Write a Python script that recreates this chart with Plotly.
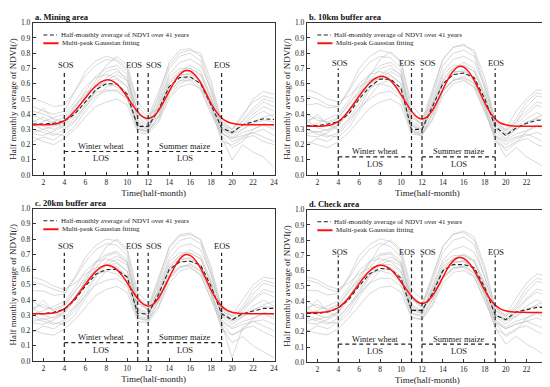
import plotly.graph_objects as go

W, H = 550, 387
x_int = list(range(1, 25))
x_half = [1 + 0.5 * i for i in range(47)]

panel_titles = ["a. Mining area", "b. 10km buffer area", "c. 20km buffer area", "d. Check area"]
x_ticks = [2, 4, 6, 8, 10, 12, 14, 16, 18, 20, 22, 24]
y_ticks = [0.0, 0.1, 0.2, 0.3, 0.4, 0.5, 0.6, 0.7, 0.8, 0.9, 1.0]
phase_x = [4, 11, 12, 19]
legend_labels = ["Half-monthly average of NDVI over 41 years", "Multi-peak Gaussian fitting"]
crop_labels = ["Winter wheat", "Summer maize"]

# half-monthly mean NDVI over 41 years (dashed)
mean_a = [0.335, 0.335, 0.34, 0.355, 0.40, 0.48, 0.56, 0.60, 0.60, 0.53, 0.32, 0.32, 0.43, 0.58, 0.64, 0.645, 0.60, 0.46, 0.31, 0.28, 0.33, 0.35, 0.37, 0.365]
mean_b = [0.325, 0.325, 0.335, 0.35, 0.40, 0.50, 0.58, 0.63, 0.63, 0.57, 0.30, 0.30, 0.45, 0.60, 0.66, 0.67, 0.64, 0.50, 0.32, 0.26, 0.31, 0.34, 0.36, 0.36]
mean_c = [0.31, 0.31, 0.32, 0.34, 0.40, 0.49, 0.57, 0.60, 0.60, 0.55, 0.31, 0.31, 0.44, 0.60, 0.65, 0.655, 0.63, 0.49, 0.31, 0.27, 0.31, 0.33, 0.345, 0.345]
mean_d = [0.32, 0.32, 0.33, 0.355, 0.41, 0.50, 0.58, 0.615, 0.61, 0.55, 0.34, 0.34, 0.45, 0.60, 0.64, 0.64, 0.62, 0.49, 0.31, 0.28, 0.33, 0.345, 0.36, 0.36]

# multi-peak Gaussian fit (red), read at half-month steps
fit_a = [0.330, 0.330, 0.330, 0.331, 0.334, 0.342, 0.358, 0.385, 0.420, 0.462, 0.505, 0.548, 0.585, 0.612, 0.625, 0.620, 0.598, 0.560, 0.512, 0.462, 0.415, 0.382, 0.372, 0.385, 0.425, 0.485, 0.550, 0.612, 0.660, 0.685, 0.683, 0.655, 0.605, 0.540, 0.470, 0.415, 0.375, 0.352, 0.340, 0.334, 0.331, 0.330, 0.330, 0.330, 0.330, 0.330, 0.330]
fit_b = [0.320, 0.320, 0.320, 0.321, 0.325, 0.334, 0.352, 0.382, 0.422, 0.468, 0.518, 0.565, 0.605, 0.634, 0.648, 0.643, 0.620, 0.580, 0.528, 0.472, 0.420, 0.382, 0.368, 0.382, 0.425, 0.490, 0.562, 0.630, 0.683, 0.712, 0.708, 0.676, 0.620, 0.550, 0.475, 0.412, 0.368, 0.342, 0.330, 0.324, 0.321, 0.320, 0.320, 0.320, 0.320, 0.320, 0.320]
fit_c = [0.310, 0.310, 0.310, 0.311, 0.315, 0.324, 0.342, 0.372, 0.410, 0.455, 0.502, 0.548, 0.588, 0.616, 0.628, 0.622, 0.600, 0.562, 0.513, 0.460, 0.410, 0.375, 0.360, 0.374, 0.415, 0.478, 0.548, 0.615, 0.668, 0.697, 0.693, 0.662, 0.608, 0.540, 0.466, 0.404, 0.360, 0.334, 0.320, 0.314, 0.311, 0.310, 0.310, 0.310, 0.310, 0.310, 0.310]
fit_d = [0.326, 0.325, 0.326, 0.328, 0.333, 0.342, 0.358, 0.386, 0.423, 0.467, 0.515, 0.560, 0.598, 0.624, 0.635, 0.630, 0.608, 0.572, 0.526, 0.478, 0.433, 0.400, 0.386, 0.398, 0.436, 0.493, 0.557, 0.620, 0.666, 0.686, 0.680, 0.650, 0.600, 0.538, 0.472, 0.415, 0.375, 0.350, 0.338, 0.332, 0.329, 0.328, 0.327, 0.327, 0.327, 0.327, 0.327]

# individual years (gray), read approximately
years_a = [
    [0.45, 0.42, 0.40, 0.42, 0.55, 0.68, 0.75, 0.78, 0.76, 0.70, 0.45, 0.38, 0.55, 0.72, 0.80, 0.82, 0.80, 0.62, 0.35, 0.30, 0.40, 0.48, 0.52, 0.50],
    [0.30, 0.28, 0.26, 0.30, 0.38, 0.45, 0.52, 0.55, 0.56, 0.50, 0.30, 0.28, 0.40, 0.55, 0.62, 0.64, 0.60, 0.45, 0.28, 0.22, 0.25, 0.28, 0.30, 0.26],
    [0.35, 0.38, 0.33, 0.36, 0.45, 0.55, 0.65, 0.70, 0.72, 0.66, 0.35, 0.30, 0.46, 0.64, 0.70, 0.70, 0.66, 0.50, 0.30, 0.27, 0.33, 0.40, 0.45, 0.42],
    [0.25, 0.22, 0.20, 0.24, 0.30, 0.38, 0.45, 0.48, 0.50, 0.46, 0.28, 0.27, 0.35, 0.50, 0.58, 0.60, 0.57, 0.42, 0.25, 0.10, 0.20, 0.15, 0.12, 0.05],
    [0.50, 0.48, 0.45, 0.46, 0.55, 0.65, 0.72, 0.76, 0.75, 0.68, 0.40, 0.35, 0.50, 0.70, 0.78, 0.80, 0.75, 0.55, 0.33, 0.30, 0.38, 0.50, 0.55, 0.53],
    [0.32, 0.35, 0.38, 0.40, 0.48, 0.58, 0.64, 0.66, 0.64, 0.58, 0.32, 0.30, 0.42, 0.60, 0.66, 0.66, 0.62, 0.48, 0.30, 0.25, 0.30, 0.35, 0.38, 0.40],
    [0.28, 0.30, 0.27, 0.26, 0.32, 0.42, 0.50, 0.58, 0.60, 0.54, 0.30, 0.29, 0.38, 0.58, 0.65, 0.67, 0.62, 0.45, 0.28, 0.24, 0.28, 0.30, 0.33, 0.30],
    [0.40, 0.36, 0.35, 0.38, 0.46, 0.52, 0.58, 0.62, 0.63, 0.58, 0.38, 0.33, 0.45, 0.62, 0.68, 0.72, 0.68, 0.52, 0.32, 0.28, 0.35, 0.42, 0.48, 0.45],
    [0.22, 0.25, 0.23, 0.28, 0.35, 0.44, 0.55, 0.62, 0.66, 0.62, 0.42, 0.35, 0.38, 0.52, 0.60, 0.63, 0.58, 0.44, 0.22, 0.20, 0.24, 0.26, 0.22, 0.20],
    [0.36, 0.32, 0.30, 0.33, 0.42, 0.50, 0.60, 0.68, 0.70, 0.62, 0.36, 0.32, 0.48, 0.66, 0.74, 0.76, 0.72, 0.56, 0.34, 0.28, 0.32, 0.38, 0.42, 0.38],
    [0.42, 0.40, 0.37, 0.35, 0.40, 0.48, 0.54, 0.56, 0.55, 0.50, 0.33, 0.31, 0.43, 0.60, 0.68, 0.70, 0.66, 0.50, 0.31, 0.27, 0.30, 0.34, 0.36, 0.35],
    [0.27, 0.26, 0.29, 0.32, 0.40, 0.52, 0.62, 0.72, 0.78, 0.72, 0.48, 0.40, 0.44, 0.58, 0.64, 0.65, 0.60, 0.46, 0.26, 0.18, 0.22, 0.30, 0.34, 0.32],
    [0.38, 0.44, 0.36, 0.30, 0.36, 0.46, 0.56, 0.64, 0.68, 0.64, 0.40, 0.36, 0.52, 0.74, 0.82, 0.83, 0.78, 0.58, 0.36, 0.30, 0.36, 0.44, 0.50, 0.48],
    [0.33, 0.30, 0.32, 0.34, 0.44, 0.54, 0.58, 0.60, 0.58, 0.52, 0.31, 0.29, 0.36, 0.54, 0.62, 0.62, 0.56, 0.40, 0.27, 0.24, 0.26, 0.28, 0.25, 0.22],
]
years_b = [
    [0.52, 0.50, 0.46, 0.45, 0.56, 0.70, 0.78, 0.82, 0.80, 0.74, 0.42, 0.36, 0.56, 0.76, 0.84, 0.85, 0.82, 0.64, 0.36, 0.30, 0.42, 0.50, 0.56, 0.55],
    [0.30, 0.27, 0.25, 0.28, 0.36, 0.44, 0.50, 0.54, 0.55, 0.50, 0.28, 0.26, 0.40, 0.56, 0.62, 0.64, 0.60, 0.44, 0.26, 0.20, 0.24, 0.26, 0.28, 0.25],
    [0.36, 0.38, 0.34, 0.37, 0.46, 0.56, 0.66, 0.72, 0.74, 0.68, 0.33, 0.29, 0.48, 0.66, 0.72, 0.72, 0.68, 0.52, 0.31, 0.26, 0.33, 0.40, 0.46, 0.43],
    [0.22, 0.20, 0.18, 0.22, 0.28, 0.36, 0.44, 0.48, 0.50, 0.46, 0.27, 0.26, 0.36, 0.52, 0.60, 0.62, 0.58, 0.42, 0.24, 0.12, 0.18, 0.12, 0.08, 0.04],
    [0.46, 0.47, 0.44, 0.45, 0.55, 0.66, 0.74, 0.78, 0.77, 0.70, 0.38, 0.33, 0.52, 0.72, 0.80, 0.82, 0.78, 0.57, 0.34, 0.29, 0.37, 0.48, 0.54, 0.52],
    [0.32, 0.34, 0.37, 0.40, 0.49, 0.60, 0.66, 0.68, 0.66, 0.60, 0.30, 0.28, 0.44, 0.62, 0.68, 0.68, 0.64, 0.50, 0.30, 0.24, 0.30, 0.34, 0.38, 0.40],
    [0.27, 0.29, 0.26, 0.25, 0.31, 0.42, 0.52, 0.60, 0.63, 0.57, 0.29, 0.27, 0.40, 0.60, 0.67, 0.69, 0.64, 0.46, 0.28, 0.23, 0.27, 0.29, 0.32, 0.29],
    [0.40, 0.36, 0.35, 0.38, 0.47, 0.54, 0.60, 0.64, 0.65, 0.60, 0.36, 0.31, 0.47, 0.64, 0.70, 0.74, 0.70, 0.54, 0.33, 0.27, 0.35, 0.42, 0.48, 0.46],
    [0.20, 0.24, 0.22, 0.27, 0.34, 0.44, 0.56, 0.64, 0.68, 0.64, 0.40, 0.33, 0.40, 0.55, 0.62, 0.65, 0.60, 0.45, 0.22, 0.18, 0.22, 0.24, 0.20, 0.18],
    [0.36, 0.31, 0.29, 0.33, 0.43, 0.52, 0.62, 0.70, 0.72, 0.65, 0.34, 0.30, 0.50, 0.68, 0.76, 0.78, 0.74, 0.58, 0.35, 0.27, 0.31, 0.37, 0.41, 0.37],
    [0.56, 0.54, 0.50, 0.48, 0.52, 0.58, 0.62, 0.64, 0.62, 0.56, 0.32, 0.30, 0.45, 0.62, 0.70, 0.72, 0.68, 0.52, 0.31, 0.26, 0.30, 0.35, 0.37, 0.36],
    [0.26, 0.25, 0.28, 0.32, 0.41, 0.54, 0.65, 0.76, 0.81, 0.75, 0.46, 0.38, 0.46, 0.60, 0.66, 0.67, 0.62, 0.47, 0.26, 0.16, 0.21, 0.29, 0.33, 0.31],
    [0.34, 0.40, 0.33, 0.30, 0.37, 0.47, 0.57, 0.66, 0.70, 0.66, 0.38, 0.34, 0.54, 0.76, 0.84, 0.86, 0.80, 0.60, 0.36, 0.29, 0.35, 0.45, 0.52, 0.50],
    [0.30, 0.28, 0.30, 0.33, 0.43, 0.53, 0.58, 0.60, 0.58, 0.52, 0.29, 0.27, 0.37, 0.55, 0.63, 0.63, 0.57, 0.41, 0.26, 0.22, 0.25, 0.27, 0.24, 0.20],
]
years_c = [
    [0.52, 0.50, 0.47, 0.45, 0.55, 0.68, 0.76, 0.80, 0.79, 0.72, 0.42, 0.36, 0.55, 0.74, 0.82, 0.83, 0.80, 0.62, 0.35, 0.30, 0.40, 0.50, 0.55, 0.54],
    [0.28, 0.26, 0.24, 0.27, 0.35, 0.43, 0.50, 0.53, 0.54, 0.49, 0.28, 0.26, 0.40, 0.56, 0.62, 0.63, 0.59, 0.44, 0.26, 0.21, 0.24, 0.26, 0.27, 0.24],
    [0.35, 0.37, 0.33, 0.36, 0.45, 0.55, 0.65, 0.70, 0.72, 0.66, 0.33, 0.29, 0.47, 0.65, 0.71, 0.71, 0.67, 0.51, 0.30, 0.26, 0.32, 0.40, 0.45, 0.42],
    [0.20, 0.18, 0.17, 0.21, 0.27, 0.35, 0.43, 0.47, 0.49, 0.45, 0.26, 0.25, 0.35, 0.51, 0.59, 0.61, 0.57, 0.41, 0.22, 0.12, 0.16, 0.10, 0.06, 0.02],
    [0.46, 0.46, 0.43, 0.44, 0.54, 0.65, 0.73, 0.77, 0.76, 0.69, 0.38, 0.33, 0.51, 0.71, 0.79, 0.81, 0.77, 0.56, 0.33, 0.29, 0.36, 0.47, 0.53, 0.51],
    [0.31, 0.33, 0.36, 0.39, 0.48, 0.59, 0.65, 0.67, 0.65, 0.59, 0.30, 0.28, 0.43, 0.61, 0.67, 0.67, 0.63, 0.49, 0.29, 0.24, 0.29, 0.33, 0.37, 0.39],
    [0.26, 0.28, 0.25, 0.24, 0.30, 0.41, 0.51, 0.59, 0.62, 0.56, 0.28, 0.27, 0.39, 0.59, 0.66, 0.68, 0.63, 0.45, 0.27, 0.22, 0.26, 0.28, 0.31, 0.28],
    [0.39, 0.35, 0.34, 0.37, 0.46, 0.53, 0.59, 0.63, 0.64, 0.59, 0.35, 0.31, 0.46, 0.63, 0.69, 0.73, 0.69, 0.53, 0.32, 0.27, 0.34, 0.41, 0.47, 0.45],
    [0.19, 0.23, 0.21, 0.26, 0.33, 0.43, 0.55, 0.63, 0.67, 0.63, 0.40, 0.33, 0.39, 0.54, 0.61, 0.64, 0.59, 0.44, 0.21, 0.17, 0.21, 0.23, 0.19, 0.16],
    [0.35, 0.30, 0.28, 0.32, 0.42, 0.51, 0.61, 0.69, 0.71, 0.64, 0.34, 0.30, 0.49, 0.67, 0.75, 0.77, 0.73, 0.57, 0.34, 0.27, 0.30, 0.36, 0.40, 0.36],
    [0.55, 0.53, 0.49, 0.47, 0.51, 0.57, 0.61, 0.63, 0.61, 0.55, 0.32, 0.30, 0.44, 0.61, 0.69, 0.71, 0.67, 0.51, 0.31, 0.26, 0.29, 0.34, 0.36, 0.35],
    [0.25, 0.24, 0.27, 0.31, 0.40, 0.53, 0.64, 0.75, 0.80, 0.74, 0.45, 0.38, 0.45, 0.59, 0.65, 0.66, 0.61, 0.46, 0.25, 0.17, 0.20, 0.28, 0.32, 0.30],
    [0.33, 0.40, 0.32, 0.29, 0.36, 0.46, 0.56, 0.65, 0.69, 0.65, 0.38, 0.34, 0.53, 0.75, 0.83, 0.84, 0.79, 0.59, 0.35, 0.29, 0.34, 0.44, 0.51, 0.49],
    [0.30, 0.27, 0.29, 0.32, 0.42, 0.52, 0.57, 0.59, 0.57, 0.51, 0.29, 0.27, 0.36, 0.54, 0.62, 0.62, 0.56, 0.40, 0.25, 0.02, 0.22, 0.26, 0.23, 0.20],
]
years_d = [
    [0.54, 0.52, 0.48, 0.46, 0.56, 0.70, 0.77, 0.81, 0.79, 0.72, 0.44, 0.38, 0.57, 0.76, 0.84, 0.86, 0.82, 0.63, 0.36, 0.31, 0.42, 0.52, 0.58, 0.56],
    [0.29, 0.27, 0.25, 0.29, 0.37, 0.45, 0.52, 0.55, 0.55, 0.50, 0.30, 0.28, 0.41, 0.56, 0.62, 0.63, 0.59, 0.44, 0.27, 0.22, 0.25, 0.27, 0.29, 0.26],
    [0.36, 0.38, 0.34, 0.37, 0.46, 0.56, 0.66, 0.71, 0.72, 0.66, 0.36, 0.32, 0.48, 0.65, 0.70, 0.70, 0.66, 0.50, 0.31, 0.27, 0.33, 0.41, 0.46, 0.43],
    [0.21, 0.19, 0.18, 0.22, 0.29, 0.37, 0.45, 0.49, 0.50, 0.46, 0.29, 0.28, 0.37, 0.52, 0.59, 0.60, 0.56, 0.41, 0.23, 0.12, 0.17, 0.12, 0.08, 0.03],
    [0.47, 0.47, 0.44, 0.45, 0.55, 0.66, 0.74, 0.78, 0.76, 0.69, 0.41, 0.36, 0.53, 0.72, 0.80, 0.82, 0.77, 0.56, 0.34, 0.30, 0.38, 0.49, 0.55, 0.53],
    [0.32, 0.34, 0.37, 0.40, 0.49, 0.60, 0.66, 0.68, 0.66, 0.60, 0.34, 0.32, 0.45, 0.61, 0.66, 0.66, 0.62, 0.48, 0.30, 0.25, 0.30, 0.34, 0.38, 0.40],
    [0.27, 0.29, 0.26, 0.26, 0.32, 0.43, 0.52, 0.60, 0.62, 0.56, 0.32, 0.31, 0.41, 0.59, 0.65, 0.67, 0.62, 0.45, 0.28, 0.23, 0.27, 0.29, 0.32, 0.29],
    [0.40, 0.36, 0.35, 0.38, 0.47, 0.54, 0.60, 0.64, 0.64, 0.59, 0.38, 0.34, 0.47, 0.63, 0.68, 0.71, 0.67, 0.52, 0.32, 0.28, 0.35, 0.42, 0.48, 0.46],
    [0.20, 0.24, 0.22, 0.27, 0.35, 0.45, 0.56, 0.64, 0.67, 0.63, 0.43, 0.36, 0.41, 0.55, 0.61, 0.63, 0.58, 0.44, 0.22, 0.18, 0.22, 0.24, 0.20, 0.17],
    [0.36, 0.31, 0.29, 0.33, 0.43, 0.52, 0.62, 0.70, 0.71, 0.64, 0.37, 0.33, 0.50, 0.67, 0.74, 0.76, 0.72, 0.56, 0.34, 0.28, 0.31, 0.37, 0.41, 0.37],
    [0.56, 0.54, 0.50, 0.48, 0.52, 0.58, 0.62, 0.64, 0.62, 0.56, 0.35, 0.33, 0.46, 0.61, 0.68, 0.70, 0.66, 0.50, 0.31, 0.27, 0.30, 0.35, 0.37, 0.36],
    [0.26, 0.25, 0.28, 0.32, 0.41, 0.54, 0.65, 0.76, 0.80, 0.74, 0.48, 0.41, 0.47, 0.60, 0.65, 0.66, 0.61, 0.46, 0.26, 0.17, 0.21, 0.29, 0.33, 0.31],
    [0.34, 0.41, 0.33, 0.30, 0.37, 0.47, 0.57, 0.66, 0.69, 0.65, 0.41, 0.37, 0.55, 0.76, 0.84, 0.85, 0.80, 0.60, 0.36, 0.30, 0.36, 0.46, 0.53, 0.51],
    [0.31, 0.28, 0.30, 0.33, 0.43, 0.53, 0.58, 0.60, 0.58, 0.52, 0.32, 0.30, 0.38, 0.55, 0.62, 0.62, 0.56, 0.40, 0.26, 0.22, 0.25, 0.27, 0.24, 0.21],
]

means = [mean_a, mean_b, mean_c, mean_d]
fits = [fit_a, fit_b, fit_c, fit_d]
years = [years_a, years_b, years_c, years_d]
los_y = [0.155, 0.12, 0.12, 0.12]
phase_top = [0.69, 0.70, 0.71, 0.70]
phase_label_y = [0.725, 0.735, 0.755, 0.72]

# panel pixel boxes (left, right, top, bottom)
boxes = [(25, 268, 11, 167), (300.5, 543, 11, 167), (25, 268, 201.3, 357.3), (300.5, 543, 202.3, 358.7)]

FONT = "Liberation Serif"
fig = go.Figure()
layout = dict(width=W, height=H, margin=dict(l=0, r=0, t=0, b=0),
              paper_bgcolor="white", plot_bgcolor="white", showlegend=False,
              font=dict(family=FONT, color="#222"))
shapes, annots = [], []

for i in range(4):
    sfx = "" if i == 0 else str(i + 1)
    xa, ya = "x" + sfx, "y" + sfx
    l, r, t, b = boxes[i]
    layout["xaxis" + sfx] = dict(domain=[l / W, r / W], range=[1, 24.05], tickvals=x_ticks,
                                 ticks="inside", ticklen=3, tickcolor="#333", showline=True, linecolor="#333",
                                 linewidth=1, mirror=True, showgrid=False, zeroline=False,
                                 tickfont=dict(size=7.5, family=FONT), anchor=ya,
                                 title=dict(text="Time(half-month)", font=dict(size=9, family=FONT), standoff=3))
    layout["yaxis" + sfx] = dict(domain=[1 - b / H, 1 - t / H], range=[0, 1], tickvals=y_ticks,
                                 tickformat=".1f", ticks="inside", ticklen=3, tickcolor="#333",
                                 showline=True, linecolor="#333", linewidth=1, mirror=True,
                                 showgrid=False, zeroline=False, tickfont=dict(size=7.5, family=FONT),
                                 anchor=xa,
                                 title=dict(text="Half monthly average of NDVI(/)", font=dict(size=9, family=FONT), standoff=2))
    for yv in years[i]:
        fig.add_trace(go.Scatter(x=x_int, y=yv, mode="lines", xaxis=xa, yaxis=ya,
                                 line=dict(color="rgba(190,190,190,0.85)", width=0.7), hoverinfo="skip"))
    fig.add_trace(go.Scatter(x=x_int, y=means[i], mode="lines", xaxis=xa, yaxis=ya,
                             line=dict(color="#222", width=1.1, dash="4px,2.5px")))
    fig.add_trace(go.Scatter(x=x_half, y=fits[i], mode="lines", xaxis=xa, yaxis=ya, line_shape="spline",
                             line=dict(color="#ff1010", width=1.5)))
    dash = "4px,3px"
    for px in phase_x:
        shapes.append(dict(type="line", xref=xa, yref=ya, x0=px, x1=px, y0=0, y1=phase_top[i],
                           line=dict(color="#222", width=1.2, dash=dash)))
    shapes.append(dict(type="line", xref=xa, yref=ya, x0=phase_x[0], x1=phase_x[1], y0=los_y[i], y1=los_y[i],
                       line=dict(color="#222", width=1.2, dash=dash)))
    shapes.append(dict(type="line", xref=xa, yref=ya, x0=phase_x[2], x1=phase_x[3], y0=los_y[i], y1=los_y[i],
                       line=dict(color="#222", width=1.2, dash=dash)))
    # phase labels
    lab_font = dict(size=8.5, family=FONT, color="#222")
    for px, txt in [(4.2, "SOS"), (10.6, "EOS"), (12.6, "SOS"), (19.05, "EOS")]:
        annots.append(dict(x=px, y=phase_label_y[i], xref=xa, yref=ya, text=txt, showarrow=False, font=lab_font))
    annots.append(dict(x=7.5, y=los_y[i] + 0.035, xref=xa, yref=ya, text=crop_labels[0], showarrow=False, font=lab_font))
    annots.append(dict(x=15.5, y=los_y[i] + 0.035, xref=xa, yref=ya, text=crop_labels[1], showarrow=False, font=lab_font))
    annots.append(dict(x=7.5, y=los_y[i] - 0.045, xref=xa, yref=ya, text="LOS", showarrow=False, font=lab_font))
    annots.append(dict(x=15.5, y=los_y[i] - 0.045, xref=xa, yref=ya, text="LOS", showarrow=False, font=lab_font))
    # in-plot legend
    shapes.append(dict(type="line", xref=xa, yref=ya, x0=2.0, x1=3.3, y0=0.92, y1=0.92,
                       line=dict(color="#222", width=1.1, dash="4px,2.5px")))
    shapes.append(dict(type="line", xref=xa, yref=ya, x0=2.0, x1=3.45, y0=0.865, y1=0.865,
                       line=dict(color="#ff1010", width=2)))
    leg_font = dict(size=7, family=FONT, color="#222")
    annots.append(dict(x=3.45, y=0.92, xref=xa, yref=ya, text=legend_labels[0], showarrow=False,
                       xanchor="left", font=leg_font))
    annots.append(dict(x=3.55, y=0.865, xref=xa, yref=ya, text=legend_labels[1], showarrow=False,
                       xanchor="left", font=leg_font))
    # panel title
    annots.append(dict(x=l / W, y=1 - (t - 6) / H, xref="paper", yref="paper", text="<b>" + panel_titles[i] + "</b>",
                       showarrow=False, xanchor="left", yanchor="middle", font=dict(size=8.5, family=FONT, color="#111")))

layout["shapes"] = shapes
layout["annotations"] = annots
fig.update_layout(**layout)
fig.write_html("out.html")
